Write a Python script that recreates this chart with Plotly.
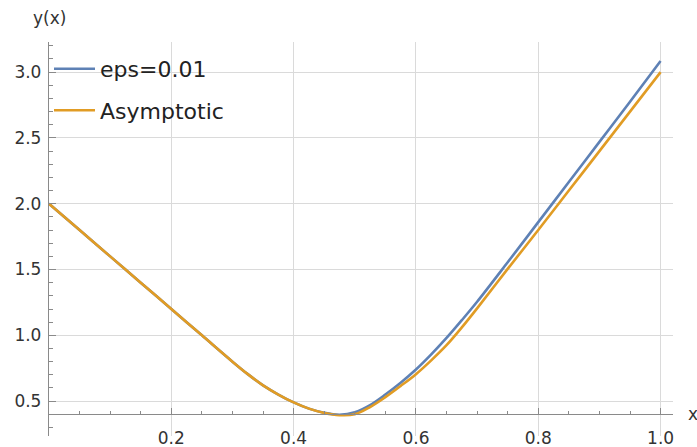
import plotly.graph_objects as go

# Data
x_vals = [0.0, 0.05, 0.10, 0.15, 0.20, 0.25, 0.30, 0.325, 0.35, 0.375, 0.40, 0.425,
          0.45, 0.475, 0.50, 0.525, 0.55, 0.575, 0.60, 0.625, 0.65, 0.675, 0.70,
          0.75, 0.80, 0.85, 0.90, 0.95, 1.00]
y_eps = [2.0, 1.80, 1.60, 1.40, 1.20, 1.00, 0.80, 0.705, 0.62, 0.55, 0.49, 0.443,
         0.412, 0.397, 0.415, 0.47, 0.55, 0.64, 0.74, 0.855, 0.98, 1.115, 1.255,
         1.555, 1.86, 2.165, 2.47, 2.775, 3.085]
y_asym = [2.0, 1.80, 1.60, 1.40, 1.20, 1.00, 0.80, 0.705, 0.62, 0.55, 0.49, 0.443,
          0.41, 0.393, 0.40, 0.455, 0.53, 0.615, 0.705, 0.81, 0.925, 1.06, 1.205,
          1.505, 1.80, 2.10, 2.40, 2.70, 3.00]
series_names = ["eps=0.01", "Asymptotic"]
x_ticks = [0.2, 0.4, 0.6, 0.8, 1.0]
y_ticks = [0.5, 1.0, 1.5, 2.0, 2.5, 3.0]
x_minor = [i * 0.05 for i in range(1, 21)]
y_minor = [round(0.3 + i * 0.1, 2) for i in range(0, 30)]

X_RANGE = [0.0, 1.0203]
Y_RANGE = [0.235, 3.229]
Y_CROSS = 0.4

BLUE = "#5E81B5"
ORANGE = "#E19C24"
FONT = "DejaVu Sans"

fig = go.Figure()
fig.add_trace(go.Scatter(x=x_vals, y=y_eps, mode="lines", name=series_names[0],
                         line=dict(color=BLUE, width=2.6, shape="spline", smoothing=1.0),
                         legendgroup="a"))
fig.add_trace(go.Scatter(x=x_vals, y=y_asym, mode="lines", name=series_names[1],
                         line=dict(color=ORANGE, width=2.6, shape="spline", smoothing=1.0),
                         legendgroup="b"))

pos = (Y_CROSS - Y_RANGE[0]) / (Y_RANGE[1] - Y_RANGE[0])

fig.update_layout(
    width=697, height=447,
    margin=dict(l=49, r=24, t=42, b=11, autoexpand=False),
    paper_bgcolor="white", plot_bgcolor="white",
    font=dict(family=FONT, size=17, color="#333333"),
    showlegend=True,
    legend=dict(x=0.0, y=0.985, xanchor="left", yanchor="top",
                bgcolor="rgba(0,0,0,0)", font=dict(size=22, color="#222222"),
                tracegroupgap=10, traceorder="grouped", itemwidth=41),
    xaxis=dict(range=X_RANGE, tickvals=x_ticks, tickformat=".1f",
               anchor="free", position=pos, automargin=False,
               showline=True, linecolor="#8a8a8a", linewidth=1.3,
               ticks="inside", ticklen=6, tickcolor="#8a8a8a", tickwidth=1.2,
               showgrid=True, gridcolor="#dadada", gridwidth=1,
               zeroline=False, ticklabelstandoff=8,
               tickfont=dict(size=17, color="#333333"),
               minor=dict(tickvals=x_minor, ticks="inside", ticklen=3,
                          tickcolor="#8a8a8a", showgrid=False)),
    yaxis=dict(range=Y_RANGE, tickvals=y_ticks, tickformat=".1f", automargin=False,
               showline=True, linecolor="#8a8a8a", linewidth=1.3,
               ticks="inside", ticklen=7, tickcolor="#8a8a8a", tickwidth=1.2,
               showgrid=True, gridcolor="#dadada", gridwidth=1,
               zeroline=False, ticklabelstandoff=3,
               tickfont=dict(size=17, color="#333333"),
               minor=dict(tickvals=y_minor, ticks="inside", ticklen=4,
                          tickcolor="#8a8a8a", showgrid=False)),
    annotations=[
        dict(text="y(x)", xref="x", x=0, yref="paper", y=1, xanchor="center",
             yanchor="bottom", yshift=12, showarrow=False,
             font=dict(size=17, color="#333333")),
        dict(text="x", xref="paper", x=1, yref="y", y=Y_CROSS, xanchor="left",
             yanchor="middle", xshift=13, showarrow=False,
             font=dict(size=17, color="#333333")),
    ],
)

fig.write_html("out.html")
